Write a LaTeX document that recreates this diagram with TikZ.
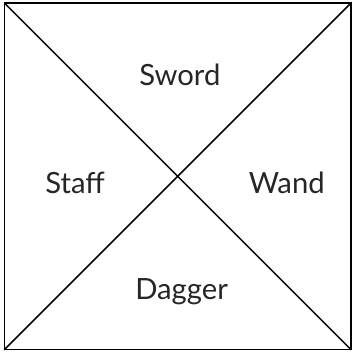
\documentclass[tikz,border=0pt]{standalone}
\usepackage{fontspec}
\setmainfont{Lato}
\usepackage{tikz}
\usetikzlibrary{positioning,calc}

\begin{document}
\begin{tikzpicture}[
  lbl/.style={font=\fontsize{23.5}{28}\selectfont, text=black!85},
  edge/.style={draw, line width=1.2pt}]
\useasboundingbox (0,0) rectangle (10,10);
\coordinate (sw) at (0.12,0.12);
\coordinate (se) at (9.92,0.12);
\coordinate (ne) at (9.92,9.92);
\coordinate (nw) at (0.12,9.92);
\draw[edge] (sw) rectangle (ne);
\draw[edge] (nw) -- (se);
\draw[edge] (sw) -- (ne);
\node[lbl] (sword) at (5.08,7.88) {Sword};
\node[lbl] (staff) at (2.12,4.83) {Staff};
\node[lbl] (wand) at (8.1,4.83) {Wand};
\node[lbl] (dagger) at (5.13,1.75) {Dagger};
\end{tikzpicture}
\end{document}
